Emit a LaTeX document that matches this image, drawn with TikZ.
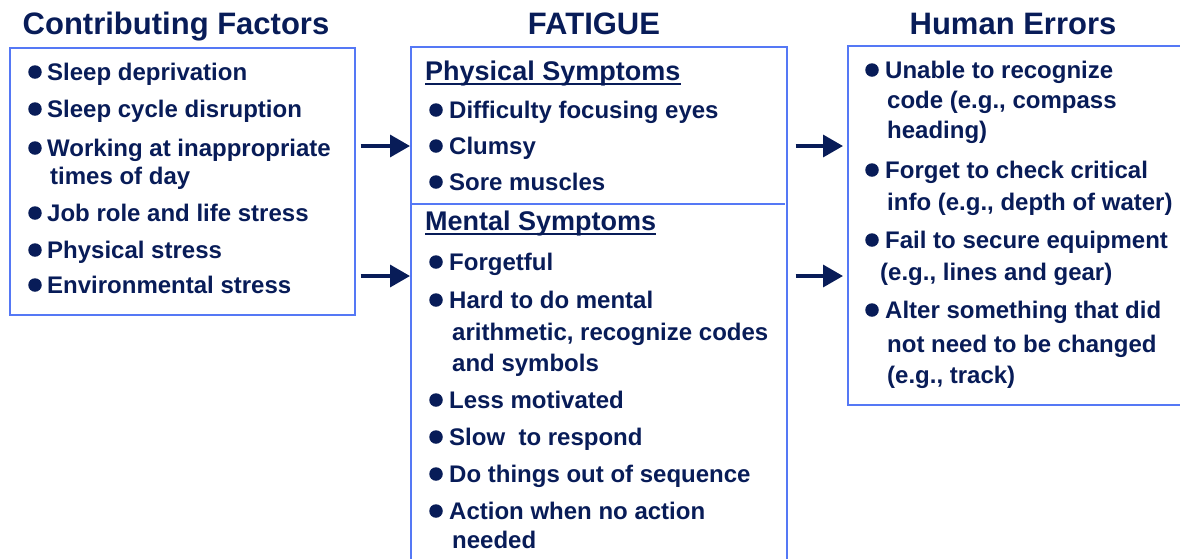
\documentclass[tikz,border=0pt]{standalone}
\usepackage{fontspec}
\setmainfont{Liberation Sans}
\usetikzlibrary{arrows.meta}

\definecolor{navy}{RGB}{8,28,88}
\definecolor{frame}{RGB}{85,120,245}

\tikzset{
  title/.style={anchor=base, inner sep=0pt, text=navy, font=\bfseries\fontsize{31}{36}\selectfont},
  heading/.style={anchor=base west, inner sep=0pt, text depth=4pt, text=navy, font=\bfseries\fontsize{27}{32}\selectfont},
  item/.style={anchor=base west, inner sep=0pt, text=navy, font=\bfseries\fontsize{24}{28}\selectfont},
  dot/.style={circle, fill=navy, inner sep=0pt, minimum size=13.5pt},
  box/.style={draw=frame, line width=1.6pt, anchor=north west, inner sep=0pt},
  ul/.style={draw=navy, line width=2.4pt},
  arr/.style={draw=navy, line width=3.5pt, -{Triangle[length=20pt,width=22pt]}}
}

\begin{document}
\begin{tikzpicture}[x=1pt,y=-1pt]
	\useasboundingbox (0,0) rectangle (1180,558);

	% column titles
	\node[title] (tfact) at (176,34) {Contributing Factors};
	\node[title] (tfat) at (594,34) {FATIGUE};
	\node[title] (terr) at (1013,34) {Human Errors};

	% the three frames
	\node[box, minimum width=345pt, minimum height=267pt] (factors) at (9,47) {};
	\node[box, minimum width=376pt, minimum height=530pt] (fatigue) at (410,46) {};
	\node[box, minimum width=345pt, minimum height=359pt] (errors) at (847,45) {};
	\coordinate (div) at (0,204);
	\draw[draw=frame, line width=1.6pt] (fatigue.west |- div) -- ([xshift=-3pt]fatigue.east |- div);

	% contributing factors
	\node[dot] (fd1) at (35,72) {};  \node[item] (f1) at (47,80) {Sleep deprivation};
	\node[dot] (fd2) at (35,109) {}; \node[item] (f2) at (47,117) {Sleep cycle disruption};
	\node[dot] (fd3) at (35,148) {}; \node[item] (f3) at (47,156) {Working at inappropriate};
	                                 \node[item] (f3b) at (50,184) {times of day};
	\node[dot] (fd4) at (35,213) {}; \node[item] (f4) at (47,221) {Job role and life stress};
	\node[dot] (fd5) at (35,250) {}; \node[item] (f5) at (47,258) {Physical stress};
	\node[dot] (fd6) at (35,285) {}; \node[item] (f6) at (47,293) {Environmental stress};

	% fatigue: physical
	\node[heading] (phys) at (425,80) {Physical Symptoms};
	\draw[ul] (phys.south west) -- (phys.south east);
	\node[dot] (pd1) at (436,110) {}; \node[item] (p1) at (449,118) {Difficulty focusing eyes};
	\node[dot] (pd2) at (436,146) {}; \node[item] (p2) at (449,154) {Clumsy};
	\node[dot] (pd3) at (436,182) {}; \node[item] (p3) at (449,190) {Sore muscles};

	% fatigue: mental
	\node[heading] (ment) at (425,230) {Mental Symptoms};
	\draw[ul] (ment.south west) -- (ment.south east);
	\node[dot] (md1) at (436,262) {}; \node[item] (m1) at (449,270) {Forgetful};
	\node[dot] (md2) at (436,300) {}; \node[item] (m2) at (449,308) {Hard to do mental};
	                                  \node[item] (m2b) at (452,340) {arithmetic, recognize codes};
	                                  \node[item] (m2c) at (452,371) {and symbols};
	\node[dot] (md3) at (436,400) {}; \node[item] (m3) at (449,408) {Less motivated};
	\node[dot] (md4) at (436,437) {}; \node[item] (m4) at (449,445) {Slow~ to respond};
	\node[dot] (md5) at (436,474) {}; \node[item] (m5) at (449,482) {Do things out of sequence};
	\node[dot] (md6) at (436,511) {}; \node[item] (m6) at (449,519) {Action when no action};
	                                  \node[item] (m6b) at (452,548) {needed};

	% human errors
	\node[dot] (ed1) at (872,70) {};  \node[item] (e1) at (885,78) {Unable to recognize};
	                                  \node[item] (e1b) at (887,108) {code (e.g., compass};
	                                  \node[item] (e1c) at (887,138) {heading)};
	\node[dot] (ed2) at (872,170) {}; \node[item] (e2) at (885,178) {Forget to check critical};
	                                  \node[item] (e2b) at (887,210) {info (e.g., depth of water)};
	\node[dot] (ed3) at (872,240) {}; \node[item] (e3) at (885,248) {Fail to secure equipment};
	                                  \node[item] (e3b) at (880,280) {(e.g., lines and gear)};
	\node[dot] (ed4) at (872,310) {}; \node[item] (e4) at (885,318) {Alter something that did};
	                                  \node[item] (e4b) at (887,352) {not need to be changed};
	                                  \node[item] (e4c) at (887,383) {(e.g., track)};

	% arrows between columns
	\coordinate (up) at (0,146);
	\coordinate (low) at (0,276);
	\draw[arr, shorten <=5pt] (factors.east |- up) -- (fatigue.west |- up);
	\draw[arr, shorten <=5pt] (factors.east |- low) -- (fatigue.west |- low);
	\draw[arr, shorten <=8pt, shorten >=4pt] (fatigue.east |- up) -- (errors.west |- up);
	\draw[arr, shorten <=8pt, shorten >=4pt] (fatigue.east |- low) -- (errors.west |- low);
\end{tikzpicture}
\end{document}
